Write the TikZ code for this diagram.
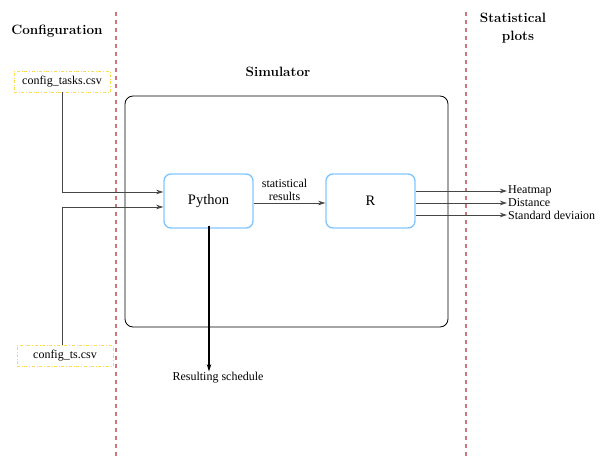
\documentclass[tikz,border=0pt]{standalone}
\usepackage{fontspec}
\setmainfont{Liberation Serif}
\newfontfamily\headfont{Latin Modern Roman}
\usetikzlibrary{arrows.meta}
\definecolor{sepred}{RGB}{200,120,120}
\definecolor{fileyel}{RGB}{250,220,80}
\definecolor{boxblue}{RGB}{130,200,255}
\definecolor{linegray}{RGB}{70,70,70}
\tikzset{
  sep/.style={draw=sepred, line width=1.2pt, dash pattern=on 4pt off 4pt},
  filebox/.style={draw=fileyel, dash dot, line width=0.8pt, minimum width=96pt, minimum height=21pt, inner sep=0pt, font=\fontsize{12}{13}\selectfont},
  procbox/.style={draw=boxblue, line width=1.4pt, rounded corners=7pt, minimum width=89pt, minimum height=54pt, inner sep=0pt, font=\fontsize{14.5}{16}\selectfont},
  head/.style={font=\headfont\bfseries\fontsize{13.5}{18}\selectfont, align=center},
  lbl/.style={font=\fontsize{12}{13}\selectfont, inner sep=1pt},
  conn/.style={draw=linegray, line width=0.8pt, -{Stealth[length=7pt,width=4.5pt,inset=2pt]}},
}
\begin{document}
\begin{tikzpicture}[x=1pt,y=-1pt]
\useasboundingbox (0,0) rectangle (602,457);
% separators
\coordinate (s1t) at (116,12);
\coordinate (s1b) at (116,457);
\coordinate (s2t) at (466,12);
\coordinate (s2b) at (466,457);
\draw[sep] (s1t) -- (s1b);
\draw[sep] (s2t) -- (s2b);
% headings
\node[head] (hconf) at (57,31) {Configuration};
\node[head] (hstat) at (513,28) {Statistical\\\hspace*{10pt}plots};
\node[head] (hsim) at (278,72) {Simulator};
% simulator box
\node[draw=black, line width=0.8pt, rounded corners=8pt, minimum width=323pt, minimum height=231pt, inner sep=0pt] (sim) at (286.5,211.5) {};
% files
\node[filebox] (ftasks) at (62,81.5) {config\_tasks.csv};
\node[filebox] (fts) at (65,355.5) {config\_ts.csv};
% processes
\node[procbox] (py) at (208.5,201) {Python};
\node[procbox] (r) at (370.5,201) {R};
% connectors from files
\coordinate (c1) at (62,192);
\coordinate (c2) at (62,207);
\draw[conn] (ftasks.south -| c1) -- (c1) -- (c1 -| py.west);
\draw[conn] (fts.north -| c2) -- (c2) -- (c2 -| py.west);
% python to R
\coordinate (pr) at (0,203);
\draw[conn] (pr -| py.east) -- node[lbl, above, align=center, pos=0.5, xshift=-5pt, yshift=1pt, font=\fontsize{12}{12.5}\selectfont] {statistical\\results} (pr -| r.west);
% outputs
\node[lbl, anchor=west] (heat) at (507,191) {Heatmap};
\node[lbl, anchor=west] (dist) at (507,203) {Distance};
\node[lbl, anchor=west] (std) at (507,215) {Standard deviaion};
\draw[conn] (heat.west -| r.east) -- (heat.west);
\draw[conn] (dist.west -| r.east) -- (dist.west);
\draw[conn] (std.west -| r.east) -- (std.west);
% result schedule
\node[lbl] (res) at (218,378) {Resulting schedule};
\coordinate (pd) at (209,0);
\draw[draw=black, line width=1.4pt, -{Stealth[length=7pt,width=4.5pt,inset=2pt]}] ([yshift=3pt]py.south -| pd) -- (pd |- res.north);
\end{tikzpicture}
\end{document}
